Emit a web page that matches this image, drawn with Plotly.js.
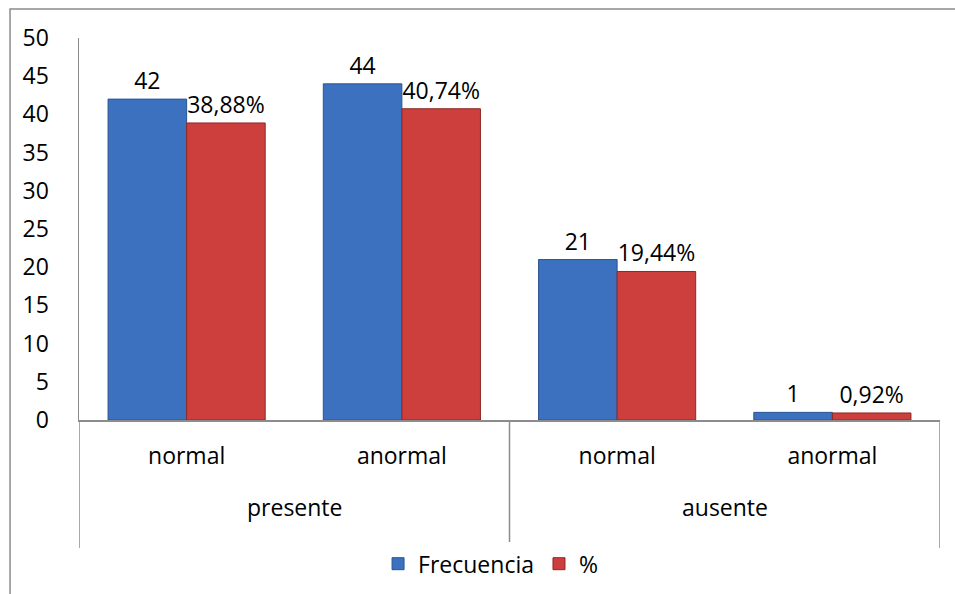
<!DOCTYPE html>
<html>
<head>
<meta charset="utf-8">
<script src="https://cdn.plot.ly/plotly-3.0.1.min.js"></script>
<style>
html,body{margin:0;padding:0;background:#fff;}
#chart{width:955px;height:594px;}
</style>
</head>
<body>
<div id="chart"></div>
<script>
const groups = ["presente", "presente", "ausente", "ausente"];
const subcats = ["normal", "anormal", "normal", "anormal"];
const frecuencia = [42, 44, 21, 1];
const porcentaje = [38.88, 40.74, 19.44, 0.92];
const frecuenciaLabels = ["42", "44", "21", "1"];
const porcentajeLabels = ["38,88%", "40,74%", "19,44%", "0,92%"];
const seriesNames = ["Frecuencia", "%"];
const yTicks = [0, 5, 10, 15, 20, 25, 30, 35, 40, 45, 50];

const font = "'Open Sans', 'Noto Sans', sans-serif";
const fs = 23;
const lineColor = "#8c8c8c";

// category positions come from the order of the categories
const xIdx = subcats.map((_, i) => i);

// group spans (start/end index) built from the groups array
const spans = [];
groups.forEach((g, i) => {
  const last = spans[spans.length - 1];
  if (last && last.name === g) last.end = i;
  else spans.push({name: g, start: i, end: i});
});

const groupAnnotations = spans.map(s => ({
  x: (s.start + s.end) / 2, xref: "x",
  y: -0.228, yref: "paper",
  text: s.name, showarrow: false,
  xanchor: "center", yanchor: "middle",
  font: {family: font, size: fs, color: "#000"}
}));

const dividerPos = [];
spans.forEach(s => {
  if (!dividerPos.includes(s.start - 0.5)) dividerPos.push(s.start - 0.5);
  if (!dividerPos.includes(s.end + 0.5)) dividerPos.push(s.end + 0.5);
});
const dividerShapes = dividerPos.map(p => ({
  type: "line", xref: "x", yref: "paper",
  x0: p, x1: p, y0: 0, y1: -0.335,
  line: {color: lineColor, width: 1.5}
}));

const traces = [
  {
    type: "bar",
    name: seriesNames[0],
    x: xIdx,
    y: frecuencia,
    text: frecuenciaLabels,
    textposition: "outside",
    texttemplate: "%{text}",
    cliponaxis: false,
    textfont: {family: font, size: fs, color: "#000"},
    marker: {color: "#3b71bf", line: {color: "#2a5592", width: 1}},
    hoverinfo: "skip"
  },
  {
    type: "bar",
    name: seriesNames[1],
    x: xIdx,
    y: porcentaje,
    text: porcentajeLabels,
    textposition: "outside",
    texttemplate: "%{text}",
    cliponaxis: false,
    textfont: {family: font, size: fs, color: "#000"},
    marker: {color: "#cc3f3c", line: {color: "#8e2725", width: 1}},
    hoverinfo: "skip"
  }
];

const layout = {
  width: 955,
  height: 594,
  margin: {l: 79, r: 15, t: 38, b: 174, autoexpand: false},
  paper_bgcolor: "#ffffff",
  plot_bgcolor: "#ffffff",
  font: {family: font, size: fs, color: "#000"},
  barmode: "group",
  bargap: 0.27,
  bargroupgap: 0,
  showlegend: true,
  legend: {
    orientation: "h",
    x: 0.478, xanchor: "center",
    y: -0.32, yanchor: "top",
    font: {family: font, size: fs, color: "#000"},
    itemwidth: 30,
    traceorder: "normal"
  },
  xaxis: {
    range: [-0.5, subcats.length - 0.5],
    tickvals: xIdx,
    ticktext: subcats,
    showline: true,
    linecolor: lineColor,
    linewidth: 1.5,
    showgrid: false,
    zeroline: false,
    ticks: "",
    ticklabelstandoff: 15,
    tickfont: {family: font, size: fs, color: "#000"}
  },
  yaxis: {
    range: [0, 50],
    tickvals: yTicks,
    ticktext: yTicks.map(String),
    showline: true,
    linecolor: lineColor,
    linewidth: 1.5,
    showgrid: false,
    zeroline: false,
    ticks: "",
    ticklabelstandoff: 24,
    tickfont: {family: font, size: fs, color: "#000"}
  },
  annotations: groupAnnotations,
  shapes: [
    {
      type: "rect", xref: "paper", yref: "paper",
      x0: -0.0801, x1: 1.05, y0: -0.5, y1: 1.0759,
      line: {color: lineColor, width: 1.5},
      fillcolor: "rgba(0,0,0,0)",
      layer: "below"
    }
  ].concat(dividerShapes)
};

Plotly.newPlot("chart", traces, layout, {displayModeBar: false, staticPlot: true});
</script>
</body>
</html>
